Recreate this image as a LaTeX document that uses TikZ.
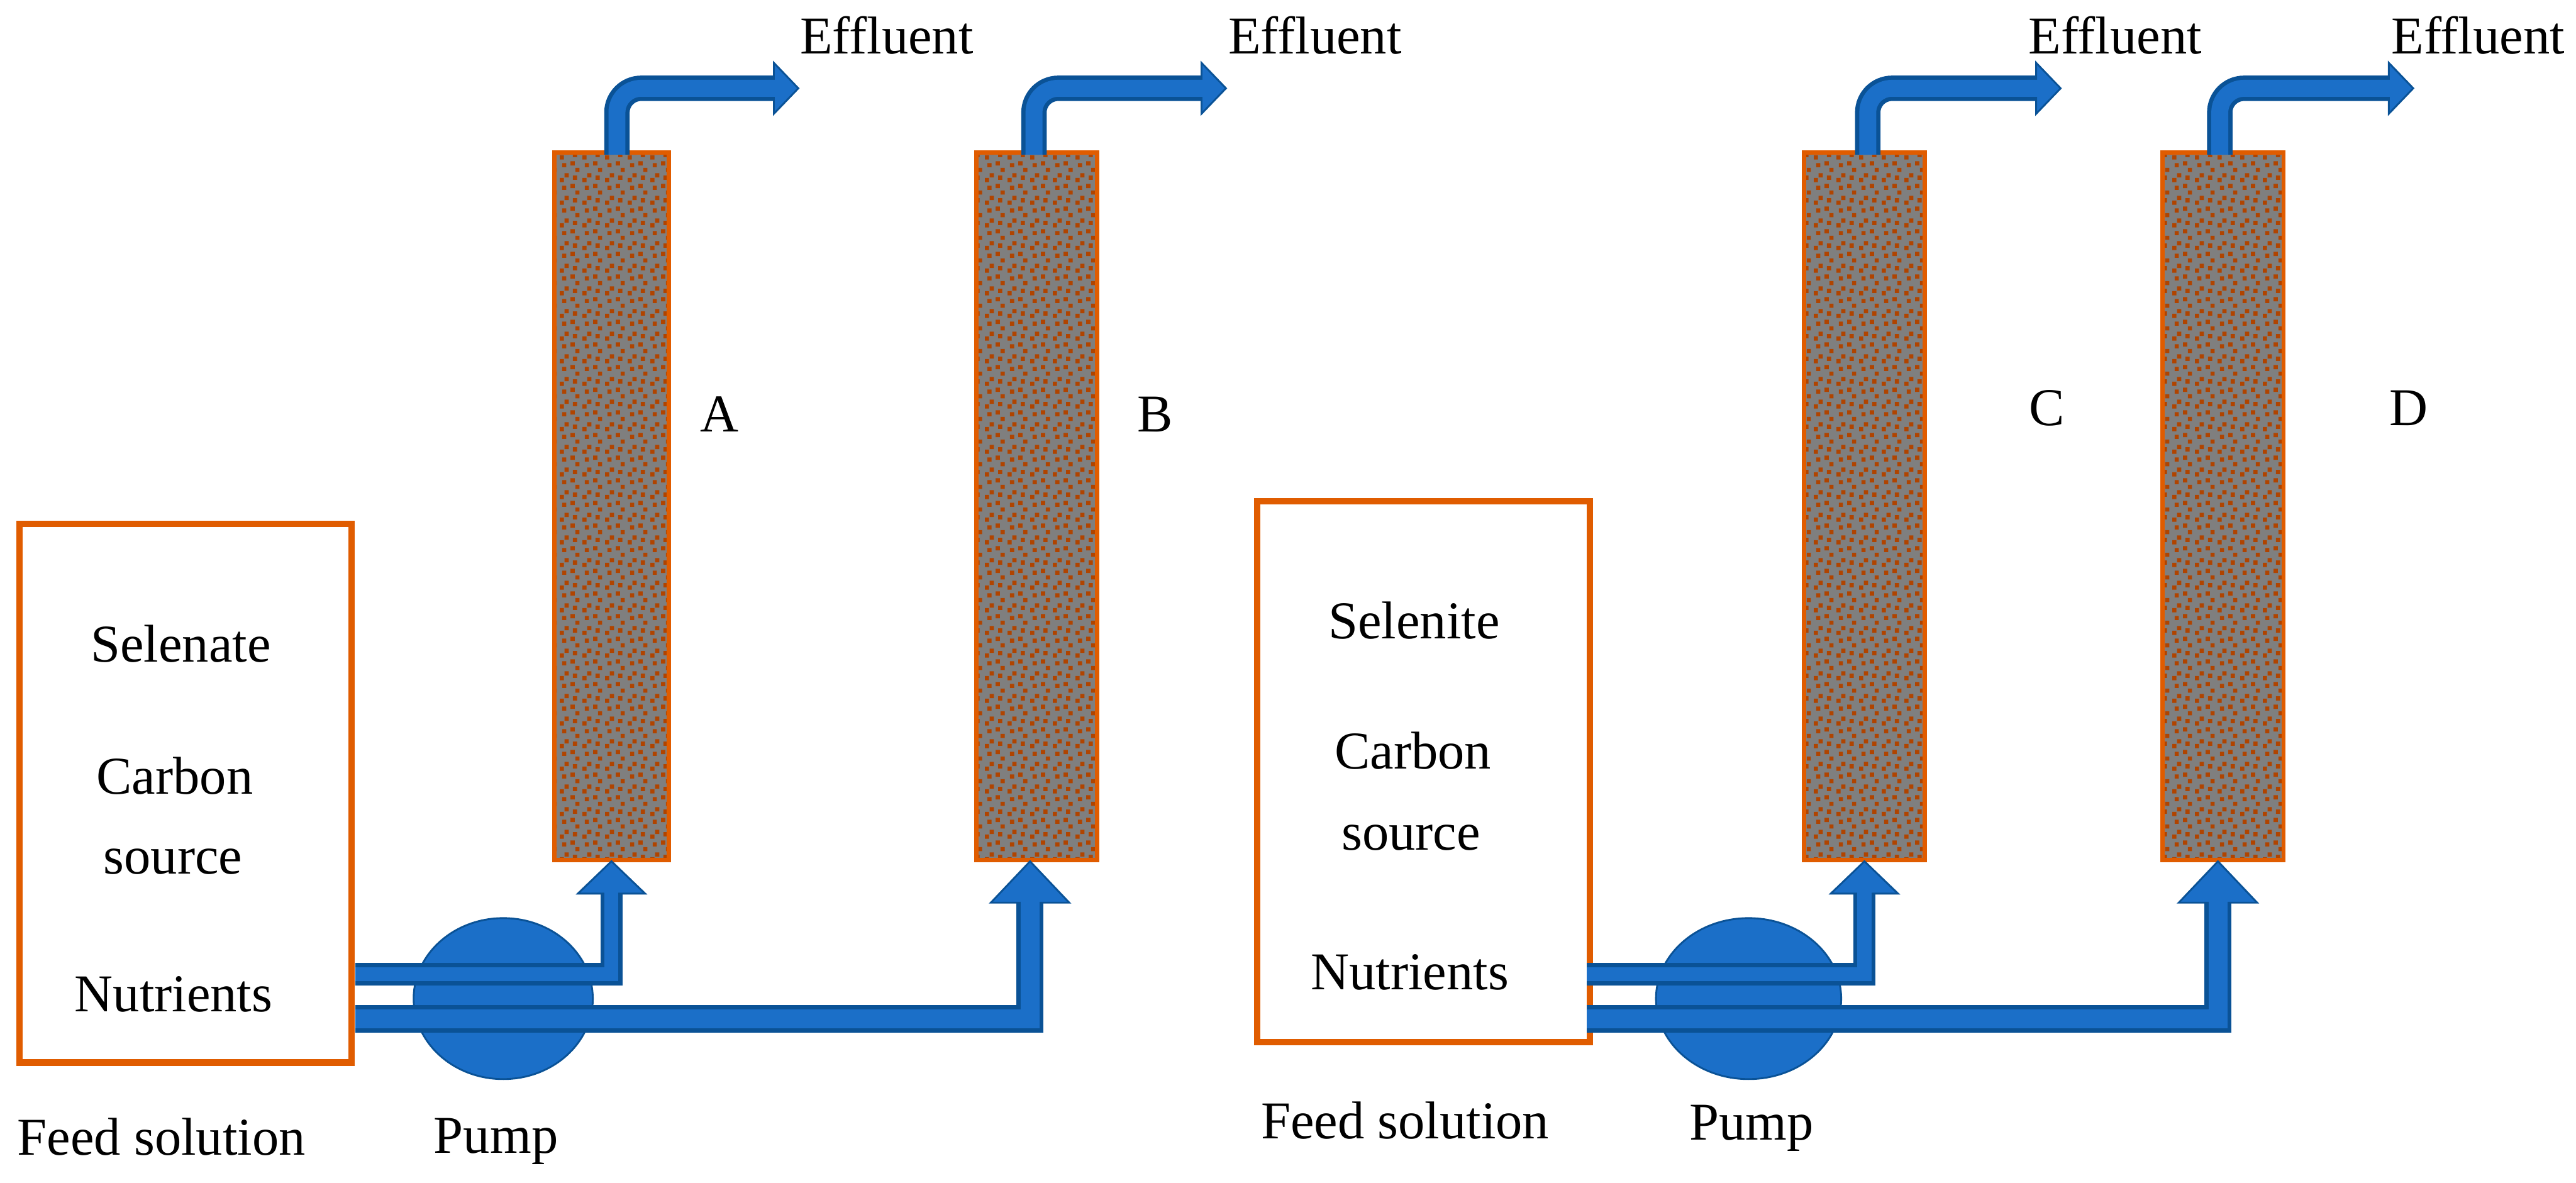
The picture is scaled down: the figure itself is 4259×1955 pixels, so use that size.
\documentclass[tikz,border=0pt]{standalone}
\usepackage{fontspec}
\setmainfont{Liberation Serif}
\usetikzlibrary{arrows.meta,patterns,shapes.geometric}

\definecolor{tankorange}{HTML}{E05C00}
\definecolor{bedgray}{HTML}{7F7F7F}
\definecolor{beddot}{HTML}{B04400}
\definecolor{pipeblue}{HTML}{1B6FC8}
\definecolor{pipedark}{HTML}{0A5296}

\newcommand{\bedspeck}[2]{\pgfpathrectangle{\pgfpoint{#1cm}{#2cm}}{\pgfpoint{.07cm}{.07cm}}}
\pgfdeclarepatternformonly{bedgravel}{\pgfpointorigin}{\pgfqpoint{.37cm}{.37cm}}{\pgfqpoint{.37cm}{.37cm}}{%
  \bedspeck{.04}{0}\bedspeck{.18}{.03}\bedspeck{0}{.13}%
  \bedspeck{.08}{.21}\bedspeck{.22}{.17}\bedspeck{.26}{.30}%
  \pgfusepath{fill}%
}

\begin{document}
\begin{tikzpicture}[
  x=.01cm,y=-.01cm,
  tank/.style={draw=tankorange,line width=.105cm,fill=white,inner sep=0,outer sep=0,minimum width=5.49cm},
  reactor/.style={draw=tankorange,line width=.07cm,inner sep=0,outer sep=0,minimum width=2cm,minimum height=11.69cm,
    preaction={fill=bedgray},pattern=bedgravel,pattern color=beddot},
  pump/.style={ellipse,draw=pipedark,line width=.03cm,fill=pipeblue,inner sep=0,outer sep=0,minimum height=2.66cm},
  tag/.style={anchor=base,inner sep=0,font=\fontsize{25}{30}\selectfont},
  smallflow/.style={draw=pipedark,line width=.37cm,
    -{Triangle[length=.57cm,width=1.18cm,fill=pipeblue,line width=.03cm]},
    postaction={draw=pipeblue,line width=.23cm,-,shorten >=.5cm}},
  bigflow/.style={draw=pipedark,line width=.45cm,
    -{Triangle[length=.72cm,width=1.36cm,fill=pipeblue,line width=.03cm]},
    postaction={draw=pipeblue,line width=.31cm,-,shorten >=.65cm}},
  outflow/.style={draw=pipedark,line width=.42cm,rounded corners=.4cm,
    -{Triangle[length=.44cm,width=.91cm,fill=pipeblue,line width=.03cm]},
    postaction={draw=pipeblue,line width=.28cm,-,shorten >=.38cm}}]

\useasboundingbox (0,0) rectangle (4259,1955);

% Feed tanks, pumps and packed columns
\node[tank,minimum height=8.9cm] (feedBoxA) at (306.75,1311.5) {};
\node[tank,minimum height=8.94cm] (feedBoxB) at (2353.5,1276) {};
\node[pump,minimum width=2.96cm] (pumpA) at (832,1651) {};
\node[pump,minimum width=3.06cm] (pumpB) at (2891,1651) {};
\node[reactor,minimum width=1.89cm] (columnA) at (1011,837) {};
\node[reactor] (columnB) at (1714,837) {};
\node[reactor] (columnC) at (3082.5,837) {};
\node[reactor] (columnD) at (3675.5,837) {};

% Free ends of the effluent lines
\coordinate (outA) at (1322,146);
\coordinate (outB) at (2029,146);
\coordinate (outC) at (3409,146);
\coordinate (outD) at (3992,146);

% Feed lines through the pumps
\draw[smallflow] ([xshift=.06cm]feedBoxA.east |- 0,1610.5) -| (columnA.south);
\draw[bigflow] ([xshift=.06cm]feedBoxA.east |- 0,1684.5) -| ([xshift=-.11cm]columnB.south);
\draw[smallflow] ([xshift=-.05cm]feedBoxB.east |- 0,1610.5) -| (columnC.south);
\draw[bigflow] ([xshift=-.05cm]feedBoxB.east |- 0,1684.5) -| ([xshift=-.085cm]columnD.south);

% Effluent lines
\draw[outflow] ([shift={(.09cm,-.035cm)}]columnA.north) |- (outA);
\draw[outflow] ([shift={(-.045cm,-.035cm)}]columnB.north) |- (outB);
\draw[outflow] ([shift={(.055cm,-.035cm)}]columnC.north) |- (outC);
\draw[outflow] ([shift={(-.055cm,-.035cm)}]columnD.north) |- (outD);

% Labels
\node[tag] (effluentA) at (1466,89) {Effluent};
\node[tag] (effluentB) at (2174,89) {Effluent};
\node[tag] (effluentC) at (3497,89) {Effluent};
\node[tag] (effluentD) at (4097,89) {Effluent};
\node[tag] (labelA) at (1190,714) {A};
\node[tag] (labelB) at (1910,714) {B};
\node[tag] (labelC) at (3384,703) {C};
\node[tag] (labelD) at (3982,703) {D};
\node[tag] (selenate) at (299,1094) {Selenate};
\node[tag] (carbonA) at (289,1313) {Carbon};
\node[tag] (sourceA) at (286,1445) {source};
\node[tag] (nutrientsA) at (287,1672) {Nutrients};
\node[tag] (feedA) at (267,1910) {Feed solution};
\node[tag] (pumpLabelA) at (820,1906) {Pump};
\node[tag] (selenite) at (2338,1056) {Selenite};
\node[tag] (carbonB) at (2336,1271) {Carbon};
\node[tag] (sourceB) at (2333,1405) {source};
\node[tag] (nutrientsB) at (2331,1636) {Nutrients};
\node[tag] (feedB) at (2323,1883) {Feed solution};
\node[tag] (pumpLabelB) at (2896,1885) {Pump};

\end{tikzpicture}
\end{document}
